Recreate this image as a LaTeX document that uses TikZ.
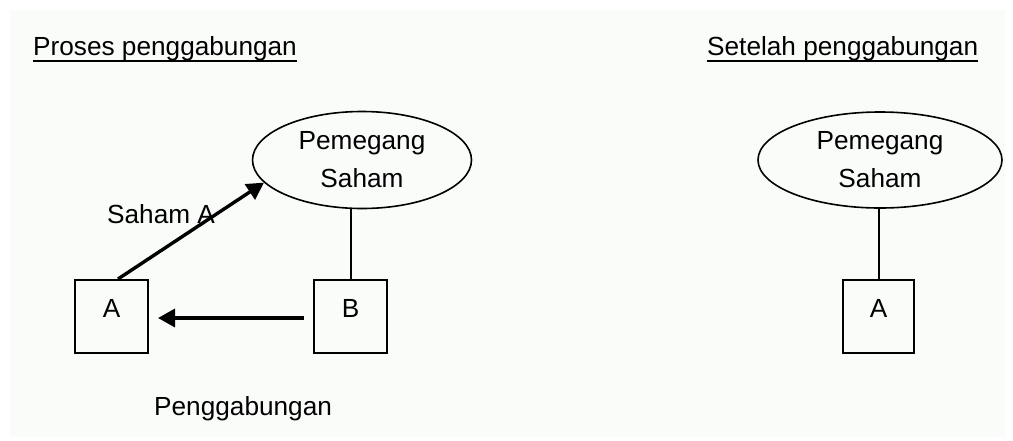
\documentclass[tikz,border=0pt]{standalone}
\usepackage{fontspec}
\setmainfont{Liberation Sans}
\usetikzlibrary{shapes.geometric,arrows.meta}
\definecolor{panel}{RGB}{250,252,250}
\begin{document}
\begin{tikzpicture}[x=1pt,y=-1pt,
  every node/.style={font=\fontsize{26.2}{38}\selectfont, inner sep=0pt},
  party/.style={draw, line width=2pt, minimum width=73pt, minimum height=73pt, text depth=16pt},
  holder/.style={draw, ellipse, line width=1.6pt, align=center},
  link/.style={line width=2pt},
  flow/.style={line width=3.4pt, -{Triangle[length=17pt,width=18pt]}},
  rule/.style={line width=2pt},
  caption/.style={anchor=base west}]
  % canvas and faint panel
  \useasboundingbox (0,0) rectangle (1013,440);
  \fill[white] (0,0) rectangle (1013,440);
  \fill[panel] (10,10) rectangle (1005,437);

  % ---- merger process ----
  \node[caption] (t1) at (33,55) {Proses penggabungan};
  \draw[rule] (t1.base west) ++(0,6) coordinate (u1a) -- (u1a -| t1.base east);

  \node[holder, minimum width=219pt, minimum height=97pt] (E1) at (362,160) {Pemegang\\Saham};
  \node[party] (A) at (111.5,316.5) {A};
  \node[party] (B) at (350.5,316.5) {B};

  \draw[link] (B.north) -- (B.north |- E1.south);
  \draw[flow] ([xshift=6.5pt]A.north) -- (E1.193);
  \draw[flow, shorten <=9pt, shorten >=9pt] ([yshift=-1.5pt]B.west) -- ([yshift=-1.5pt]A.east);

  \node[caption] (sa) at (107,223) {Saham A};
  \node[caption] (pg) at (154,415) {Penggabungan};

  % ---- after the merger ----
  \node[caption] (t2) at (707,55) {Setelah penggabungan};
  \draw[rule] (t2.base west) ++(0,6) coordinate (u2a) -- (u2a -| t2.base east);

  \node[holder, minimum width=244pt, minimum height=96pt] (E2) at (880,160) {Pemegang\\Saham};
  \node[party, minimum width=71pt] (A2) at (878.5,316.5) {A};
  \draw[link] (A2.north) -- (A2.north |- E2.south);
\end{tikzpicture}
\end{document}
